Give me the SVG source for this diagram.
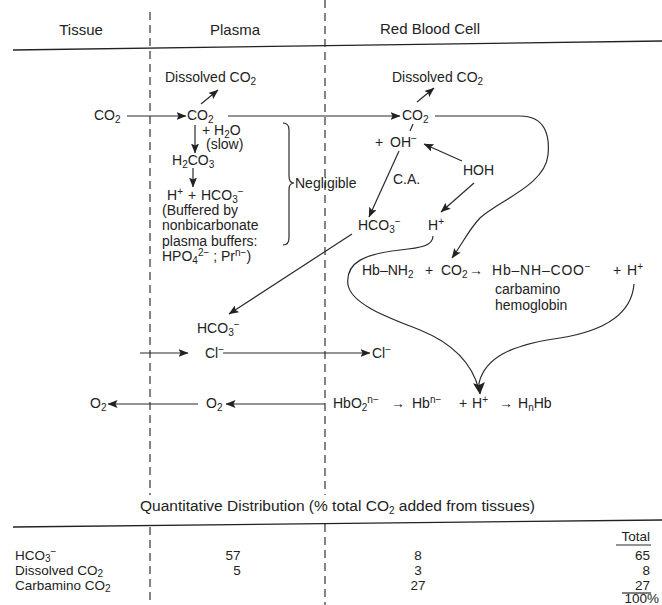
<svg xmlns="http://www.w3.org/2000/svg" width="662" height="605" viewBox="0 0 662 605">
<style>
.t{font-family:"Liberation Sans",Arial,Helvetica,sans-serif;font-size:14px;fill:#222}
.h{font-size:15px}
.q{font-size:15.5px}
.k{font-size:13.5px}
.s{font-size:10px}
.c{fill:none;stroke:#2a2a2a;stroke-width:1.2}
.d{fill:none;stroke:#333;stroke-width:1.2;stroke-dasharray:8 5}
.r{fill:none;stroke:#222;stroke-width:1.4}
.m{text-anchor:middle}
.e{text-anchor:end}
</style>
<defs>
<marker id="a" viewBox="0 0 10 8" refX="9.5" refY="4" markerWidth="10" markerHeight="8" orient="auto" markerUnits="userSpaceOnUse"><path d="M0,0L10,4L0,8L2,4z" fill="#222"/></marker>
<marker id="A" viewBox="0 0 10 10" refX="9.5" refY="5" markerWidth="13" markerHeight="12" orient="auto" markerUnits="userSpaceOnUse"><path d="M0,0L10,5L0,10L2,5z" fill="#222"/></marker>
</defs>
<rect width="662" height="605" fill="#fff"/>

<g id="frame">
<text class="t h m" x="81" y="35">Tissue</text>
<text class="t h m" x="235" y="35">Plasma</text>
<text class="t h m" x="430" y="34">Red Blood Cell</text>
<path class="r" d="M13,50 L662,41"/>
<path class="d" d="M150,12 V495 M325,0 V495 M150,527 V605 M325,524 V605"/>
</g>

<g id="connectors">
<path class="c" d="M201,104 L218,90" marker-end="url(#a)"/>
<path class="c" d="M127,116 L186,116" marker-end="url(#a)"/>
<path class="c" d="M228,116 L400,116" marker-end="url(#a)"/>
<path class="c" d="M417,102 L434,88" marker-end="url(#a)"/>
<path class="c" d="M435,116 L520,116 C545,116 550,135 548,155 C545,185 500,200 480,218 C470,228 462,244 452,258" marker-end="url(#a)"/>
<path class="c" d="M195,125 L195,153" marker-end="url(#a)"/>
<path class="c" d="M193,168 L193,187" marker-end="url(#a)"/>
<path class="c" d="M413,124 L410,131"/>
<path class="c" d="M399,151 L369,217" marker-end="url(#a)"/>
<path class="c" d="M462,161 L424,144" marker-end="url(#a)"/>
<path class="c" d="M474,183 L441,212" marker-end="url(#a)"/>
<path class="c" d="M352,234 L229,314" marker-end="url(#a)"/>
<path class="c" d="M433,236 C433,246 420,248 400,250 C365,254 345,262 348,285 C352,305 390,318 420,330 C452,343 472,362 479,390"/>
<path class="c" d="M634,284 C632,310 610,330 560,338 C510,345 485,358 479,383 L480,394" marker-end="url(#A)"/>
<path class="c" d="M140,353 L188,353" marker-end="url(#a)"/>
<path class="c" d="M223,353 L370,353" marker-end="url(#a)"/>
<path class="c" d="M198,404 L108,404" marker-end="url(#a)"/>
<path class="c" d="M325,404 L226,404" marker-end="url(#a)"/>
</g>

<g id="tissue-co2"><text class="t" x="94" y="120">CO<tspan class="s" dy="2.5">2</tspan></text></g>
<g id="plasma-dissolved-co2"><text class="t" x="165" y="82">Dissolved CO<tspan class="s" dy="2.5">2</tspan></text></g>
<g id="plasma-co2"><text class="t" x="187" y="120">CO<tspan class="s" dy="2.5">2</tspan></text></g>
<g id="plus-h2o">
<text class="t" x="202" y="135">+ H<tspan class="s" dy="2.5">2</tspan><tspan dy="-2.5">O</tspan></text>
<text class="t" x="206" y="149">(slow)</text>
</g>
<g id="h2co3"><text class="t" x="172" y="165">H<tspan class="s" dy="2.5">2</tspan><tspan dy="-2.5">CO</tspan><tspan class="s" dy="2.5">3</tspan></text></g>
<g id="plasma-h-hco3">
<text class="t" x="167" y="200">H<tspan class="s" dy="-5">+</tspan></text>
<text class="t" x="188" y="200">+</text>
<text class="t" x="201" y="200">HCO<tspan class="s" dy="2.5">3</tspan><tspan class="s" dy="-7.5">−</tspan></text>
</g>
<g id="buffered">
<text class="t" x="162" y="215">(Buffered by</text>
<text class="t" x="162" y="230">nonbicarbonate</text>
<text class="t" x="162" y="246">plasma buffers:</text>
<text class="t" x="162" y="261">HPO<tspan class="s" dy="2.5">4</tspan><tspan class="s" dy="-7.5">2−</tspan><tspan dy="5"> ; Pr</tspan><tspan class="s" dy="-5">n−</tspan><tspan dy="5">)</tspan></text>
</g>
<g id="negligible">
<path class="c" d="M283,123 Q289,123 289,130 L289,176 Q289,183 294,183 Q289,183 289,190 L289,238 Q289,245 283,245"/>
<text class="t" x="295" y="188">Negligible</text>
</g>

<g id="rbc-dissolved-co2"><text class="t" x="392" y="82">Dissolved CO<tspan class="s" dy="2.5">2</tspan></text></g>
<g id="rbc-co2"><text class="t" x="402" y="120">CO<tspan class="s" dy="2.5">2</tspan></text></g>
<g id="rbc-oh">
<text class="t" x="375" y="147">+</text>
<text class="t" x="390" y="147">OH<tspan class="s" dy="-5">−</tspan></text>
</g>
<g id="ca"><text class="t" x="393" y="184">C.A.</text></g>
<g id="hoh"><text class="t" x="463" y="175">HOH</text></g>
<g id="rbc-hco3"><text class="t" x="358" y="230">HCO<tspan class="s" dy="2.5">3</tspan><tspan class="s" dy="-7.5">−</tspan></text></g>
<g id="rbc-h"><text class="t" x="428" y="230">H<tspan class="s" dy="-5">+</tspan></text></g>

<g id="carbamino">
<text class="t" x="362" y="275">Hb–NH<tspan class="s" dy="2.5">2</tspan></text>
<text class="t" x="425" y="275">+</text>
<text class="t" x="441" y="275">CO<tspan class="s" dy="2.5">2</tspan></text>
<text class="t" x="469" y="275">→</text>
<text class="t" x="492" y="275" letter-spacing="0.8">Hb–NH–COO<tspan class="s" dy="-5">−</tspan></text>
<text class="t" x="613" y="275">+</text>
<text class="t" x="627" y="275">H<tspan class="s" dy="-5">+</tspan></text>
<text class="t" x="495" y="294">carbamino</text>
<text class="t" x="495" y="310">hemoglobin</text>
</g>

<g id="plasma-hco3"><text class="t" x="197" y="333">HCO<tspan class="s" dy="2.5">3</tspan><tspan class="s" dy="-7.5">−</tspan></text></g>
<g id="plasma-cl"><text class="t" x="205" y="358">Cl<tspan class="s" dy="-5">−</tspan></text></g>
<g id="rbc-cl"><text class="t" x="372" y="358">Cl<tspan class="s" dy="-5">−</tspan></text></g>

<g id="tissue-o2"><text class="t" x="90" y="408">O<tspan class="s" dy="2.5">2</tspan></text></g>
<g id="plasma-o2"><text class="t" x="206" y="408">O<tspan class="s" dy="2.5">2</tspan></text></g>
<g id="hb-reaction">
<text class="t" x="333" y="408">HbO<tspan class="s" dy="2.5">2</tspan><tspan class="s" dy="-7.5">n−</tspan></text>
<text class="t" x="391" y="408">→</text>
<text class="t" x="412" y="408">Hb<tspan class="s" dy="-5">n−</tspan></text>
<text class="t" x="459" y="408">+</text>
<text class="t" x="472" y="408">H<tspan class="s" dy="-5">+</tspan></text>
<text class="t" x="499" y="408">→</text>
<text class="t" x="518" y="408">H<tspan class="s" dy="2.5">n</tspan><tspan dy="-2.5">Hb</tspan></text>
</g>

<g id="table">
<text class="t q" x="140" y="511">Quantitative Distribution (% total CO<tspan class="s" dy="2.5">2</tspan><tspan dy="-2.5"> added from tissues)</tspan></text>
<path class="r" d="M13,527 L662,520"/>
<text class="t k e" x="650" y="541">Total</text>
<path class="c" d="M616,545 H651"/>
<text class="t k" x="15" y="560">HCO<tspan class="s" dy="2">3</tspan><tspan class="s" dy="-7">−</tspan></text>
<text class="t k m" x="233" y="560">57</text>
<text class="t k m" x="418" y="560">8</text>
<text class="t k e" x="650" y="560">65</text>
<text class="t k" x="15" y="575">Dissolved CO<tspan class="s" dy="2">2</tspan></text>
<text class="t k m" x="237" y="575">5</text>
<text class="t k m" x="418" y="575">3</text>
<text class="t k e" x="650" y="575">8</text>
<text class="t k" x="15" y="590">Carbamino CO<tspan class="s" dy="2">2</tspan></text>
<text class="t k m" x="418" y="590">27</text>
<text class="t k e" x="650" y="590">27</text>
<path class="c" d="M622,593 H651"/>
<text class="t k e" x="659" y="603">100%</text>
</g>
</svg>
